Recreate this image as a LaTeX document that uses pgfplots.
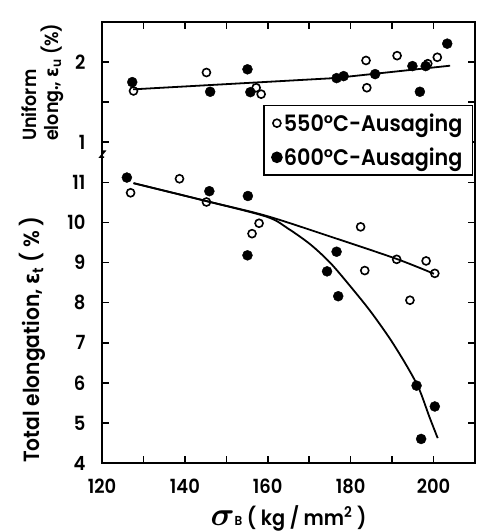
\documentclass[border=0pt]{standalone}
\usepackage{fontspec}
\setmainfont{Poppins}[BoldFont={Poppins SemiBold}, FakeStretch=0.92]
\newfontfamily\gfont{DejaVu Sans}[FakeStretch=0.92]
\usepackage{pgfplots}
\pgfplotsset{compat=1.18}
\usepackage{pgfplotstable}

% Uniform elongation (%)
\pgfplotstableread{
x y
127.6 1.64
145.2 1.87
157.2 1.68
158.4 1.60
183.7 2.02
183.9 1.68
191.2 2.08
198.6 1.98
200.9 2.06
}\EuOpen
\pgfplotstableread{
x y
127.3 1.75
146.1 1.63
155.1 1.91
155.8 1.625
176.6 1.80
178.3 1.825
185.9 1.85
194.9 1.95
196.7 1.63
198.1 1.95
203.3 2.23
}\EuFilled
\pgfplotstableread{
x y
127.5 1.66
176.0 1.80
204.0 1.955
}\EuFit
% Total elongation (%)
\pgfplotstableread{
x y
126.9 10.74
138.7 11.09
145.2 10.51
156.2 9.72
157.9 9.98
182.4 9.89
183.4 8.80
191.1 9.08
194.3 8.06
198.2 9.04
200.3 8.73
}\EtOpen
\pgfplotstableread{
x y
126.0 11.12
145.9 10.78
155.1 9.18
155.2 10.66
174.3 8.78
176.6 9.27
177.0 8.16
195.9 5.93
197.0 4.60
200.3 5.41
}\EtFilled
\pgfplotstableread{
x y
127.6 10.98
145.3 10.53
159.8 10.16
175.9 9.62
191.1 9.09
200.1 8.72
}\EtFitOpen
\pgfplotstableread{
x y
127.6 10.98
145.3 10.53
159.8 10.14
165.0 9.84
170.3 9.45
175.1 8.99
179.9 8.41
184.8 7.78
189.6 7.08
193.6 6.41
196.5 5.85
199.0 5.15
201.0 4.62
}\EtFitFilled

\newcommand\uplabel{\rotatebox{90}{\fontsize{19}{16.5}\selectfont\bfseries
  \begin{tabular}{@{}l@{}}Uniform\\elong., {\gfont\bfseries ε}\textsubscript{u} (\%)\end{tabular}}}

\begin{document}
\begin{tikzpicture}
\begin{axis}[
  name=ax,
  scale only axis,
  width=373pt, height=441pt,
  xmin=120, xmax=210,
  ymin=4, ymax=15,
  axis line style={line width=1.8pt},
  every tick/.style={line width=1.6pt, black},
  major tick length=7pt, minor tick length=7pt,
  xtick={120,140,...,200},
  minor xtick={130,150,...,210},
  ytick={4,5,6,7,8,9,10,11,12,14},
  yticklabels={4,5,6,7,8,9,10,11,1,2},
  minor ytick={13},
  /pgf/number format/assume math mode=true,
  tick label style={font=\fontsize{19.5}{19.5}\selectfont\bfseries},
  yticklabel style={xshift=-13pt},
  xticklabel style={yshift=-12pt},
  legend cell align=left,
  legend image code/.code={\draw[mark repeat=2,mark phase=2,#1] plot coordinates {(0cm,0cm) (0.17cm,0cm) (0.34cm,0cm)};},
  legend style={at={(0.995,0.812)}, anchor=north east,
    draw=black, line width=1.4pt, fill=white,
    font=\fontsize{22.5}{22.5}\selectfont\bfseries,
    row sep=11pt, inner xsep=8pt, inner ysep=6pt},
  legend image post style={line width=1.6pt},
  clip=false,
]
% Total elongation
\addplot[only marks, mark=o, mark size=4pt, line width=1.6pt, black] table {\EtOpen};
\addlegendentry{550°C-Ausaging}
\addplot[only marks, mark=*, mark size=5pt, black] table {\EtFilled};
\addlegendentry{600°C-Ausaging}
\addplot[smooth, line width=1.8pt, black, forget plot] table {\EtFitOpen};
\addplot[smooth, line width=1.8pt, black, forget plot] table {\EtFitFilled};
% Uniform elongation (mapped: 10 + 2*Eu)
\addplot[only marks, mark=o, mark size=4pt, line width=1.6pt, black, forget plot,
  y filter/.expression={10+2*y}] table {\EuOpen};
\addplot[only marks, mark=*, mark size=5pt, black, forget plot,
  y filter/.expression={10+2*y}] table {\EuFilled};
\addplot[line width=1.8pt, black, forget plot,
  y filter/.expression={10+2*y}] table {\EuFit};
% axis break
\draw[line width=1.4pt] (axis cs:120,11.78) -- ++(3pt,0pt) -- ++(-5pt,-6pt) -- ++(4pt,0pt);
\end{axis}
% labels (placed relative to the axis frame)
\node[rotate=90, anchor=base west, inner sep=0pt, font=\fontsize{22}{22}\selectfont\bfseries]
  at ([xshift=-62pt]ax.south west) {Total elongation, {\gfont\bfseries ε}\textsubscript{t} ( \% )};
\node[anchor=south west, inner sep=0pt]
  at ([xshift=-81pt, yshift=-119pt]ax.north west) {\uplabel};
\node[anchor=base, inner sep=0pt, font=\fontsize{21}{21}\selectfont\bfseries]
  at ([yshift=-62pt]ax.south) {{\boldmath\scalebox{1.6}{$\sigma$}}{\fontsize{13}{13}\selectfont B} ( kg / mm\textsuperscript{2} )};
\pgfresetboundingbox
\path ([shift={(-102pt,-69pt)}]ax.south west) rectangle ([shift={(1pt,22pt)}]ax.north east);
\end{tikzpicture}
\end{document}
